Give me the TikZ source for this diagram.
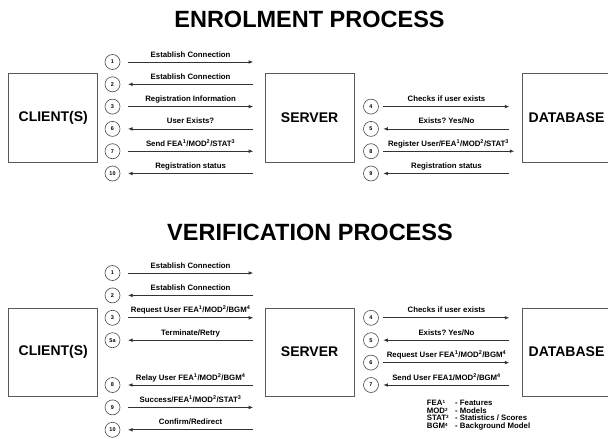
\documentclass[tikz,border=0pt]{standalone}
\usepackage{fontspec}
\setmainfont{Liberation Sans}
\usetikzlibrary{arrows.meta}
\newcommand\legsup[1]{\raisebox{1.7pt}{\fontsize{4.5}{5}\selectfont #1}}
\frenchspacing
\begin{document}
\frenchspacing
\begin{tikzpicture}[x=1pt,y=-1pt,
  box/.style={draw=black!65, line width=0.8pt, minimum width=89pt, minimum height=89pt, inner sep=0pt, font=\fontsize{14}{16}\selectfont\bfseries},
  vbox/.style={box, minimum height=88pt},
  num/.style={circle, draw=black!70, line width=0.6pt, minimum size=15pt, inner sep=0pt, font=\fontsize{5.5}{6}\selectfont\bfseries},
  msg/.style={draw=black!80, line width=0.7pt},
  tipr/.style={msg, -{Latex[length=4.5pt,width=3.6pt]}},
  tipl/.style={msg, {Latex[length=4.5pt,width=3.6pt]}-},
  lside/.style={shorten <=7.7pt, shorten >=11.5pt},
  rside/.style={shorten <=4.5pt, shorten >=12.3pt},
  lbl/.style={font=\fontsize{7.8}{9}\selectfont\bfseries\frenchspacing, anchor=base, inner sep=0pt},
  ttl/.style={font=\fontsize{23.5}{26}\selectfont\bfseries, inner sep=0pt},
  leg/.style={font=\fontsize{7.8}{8}\selectfont\bfseries, anchor=base west, inner sep=0pt}]
\useasboundingbox[fill=white] (0,0) rectangle (608,439);
\clip (0,0) rectangle (608,439);

% ================= ENROLMENT =================
\node[ttl] (eT) at (309.5,19.5) {ENROLMENT PROCESS};
\node[box] (eC) at (53.3,117.8) {CLIENT(S)};
\node[box] (eS) at (309.6,117.8) {SERVER};
\node[box] (eD) at (566.5,117.8) {DATABASE};

\node[num] (eL1) at (112.5,62) {1};
\node[num] (eL2) at (112.5,84.3) {2};
\node[num] (eL3) at (112.5,106.6) {3};
\node[num] (eL6) at (112.5,128.9) {6};
\node[num] (eL7) at (112.5,151.2) {7};
\node[num] (eL10) at (112.5,173.5) {10};

\draw[tipr,lside] (eL1) -- (eL1 -| eS.west);
\draw[tipl,lside] (eL2) -- (eL2 -| eS.west);
\draw[tipr,lside] (eL3) -- (eL3 -| eS.west);
\draw[tipl,lside] (eL6) -- (eL6 -| eS.west);
\draw[tipr,lside] (eL7) -- (eL7 -| eS.west);
\draw[tipl,lside] (eL10) -- (eL10 -| eS.west);

\node[lbl] at (190.6,57) {Establish Connection};
\node[lbl] at (190.6,79.3) {Establish Connection};
\node[lbl] at (190.6,101.6) {Registration Information};
\node[lbl] at (190.6,123.9) {User Exists?};
\node[lbl] at (190.6,146.2) {Send FEA\textsuperscript{1}/MOD\textsuperscript{2}/STAT\textsuperscript{3}};
\node[lbl] at (190.6,168.5) {Registration status};

\node[num] (eR4) at (371,106.6) {4};
\node[num] (eR5) at (371,128.9) {5};
\node[num] (eR8) at (371,151.2) {8};
\node[num] (eR9) at (371,173.5) {9};

\draw[tipr,rside] (eR4) -- (eR4 -| eD.west);
\draw[tipl,rside] (eR5) -- (eR5 -| eD.west);
\draw[tipr,rside,shorten >=7.3pt] (eR8) -- (eR8 -| eD.west);
\draw[tipl,rside] (eR9) -- (eR9 -| eD.west);

\node[lbl] at (446.5,101.6) {Checks if user exists};
\node[lbl] at (446.5,123.9) {Exists? Yes/No};
\node[lbl] at (448.5,146.2) {Register User/FEA\textsuperscript{1}/MOD\textsuperscript{2}/STAT\textsuperscript{3}};
\node[lbl] at (446.5,168.5) {Registration status};

% ================= VERIFICATION =================
\node[ttl] (vT) at (310,232) {VERIFICATION PROCESS};
\node[vbox] (vC) at (53.3,352) {CLIENT(S)};
\node[vbox] (vS) at (309.6,352) {SERVER};
\node[vbox] (vD) at (566.5,352) {DATABASE};

\node[num] (vL1) at (112.5,273) {1};
\node[num] (vL2) at (112.5,295.4) {2};
\node[num] (vL3) at (112.5,317.8) {3};
\node[num] (vL5a) at (112.5,340.2) {5a};
\node[num] (vL8) at (112.5,385) {8};
\node[num] (vL9) at (112.5,407.4) {9};
\node[num] (vL10) at (112.5,429.8) {10};

\draw[tipr,lside] (vL1) -- (vL1 -| vS.west);
\draw[tipl,lside] (vL2) -- (vL2 -| vS.west);
\draw[tipr,lside] (vL3) -- (vL3 -| vS.west);
\draw[tipl,lside] (vL5a) -- (vL5a -| vS.west);
\draw[tipl,lside] (vL8) -- (vL8 -| vS.west);
\draw[tipr,lside] (vL9) -- (vL9 -| vS.west);
\draw[tipl,lside] (vL10) -- (vL10 -| vS.west);

\node[lbl] at (190.6,268) {Establish Connection};
\node[lbl] at (190.6,290.4) {Establish Connection};
\node[lbl] at (190.6,312.8) {Request User FEA\textsuperscript{1}/MOD\textsuperscript{2}/BGM\textsuperscript{4}};
\node[lbl] at (190.6,335.2) {Terminate/Retry};
\node[lbl] at (190.6,380) {Relay User FEA\textsuperscript{1}/MOD\textsuperscript{2}/BGM\textsuperscript{4}};
\node[lbl] at (190.6,402.4) {Success/FEA\textsuperscript{1}/MOD\textsuperscript{2}/STAT\textsuperscript{3}};
\node[lbl] at (190.6,424.8) {Confirm/Redirect};

\node[num] (vR4) at (371,317.8) {4};
\node[num] (vR5) at (371,340.2) {5};
\node[num] (vR6) at (371,362.6) {6};
\node[num] (vR7) at (371,385) {7};

\draw[tipr,rside] (vR4) -- (vR4 -| vD.west);
\draw[tipl,rside] (vR5) -- (vR5 -| vD.west);
\draw[tipr,rside] (vR6) -- (vR6 -| vD.west);
\draw[tipl,rside] (vR7) -- (vR7 -| vD.west);

\node[lbl] at (446.5,312.8) {Checks if user exists};
\node[lbl] at (446.5,335.2) {Exists? Yes/No};
\node[lbl] at (446.5,357.6) {Request User FEA\textsuperscript{1}/MOD\textsuperscript{2}/BGM\textsuperscript{4}};
\node[lbl] at (446.5,380) {Send User FEA1/MOD\textsuperscript{2}/BGM\textsuperscript{4}};

% legend
\node[leg] (k1) at (426.7,405.4) {FEA\legsup{1}};
\node[leg] (k2) at (426.7,413) {MOD\legsup{2}};
\node[leg] (k3) at (426.7,420.6) {STAT\legsup{3}};
\node[leg] (k4) at (426.7,428.2) {BGM\legsup{4}};
\node[leg] (d1) at (455,405.4) {- Features};
\node[leg] (d2) at (455,413) {- Models};
\node[leg] (d3) at (455,420.6) {- Statistics / Scores};
\node[leg] (d4) at (455,428.2) {- Background Model};
\end{tikzpicture}
\end{document}
